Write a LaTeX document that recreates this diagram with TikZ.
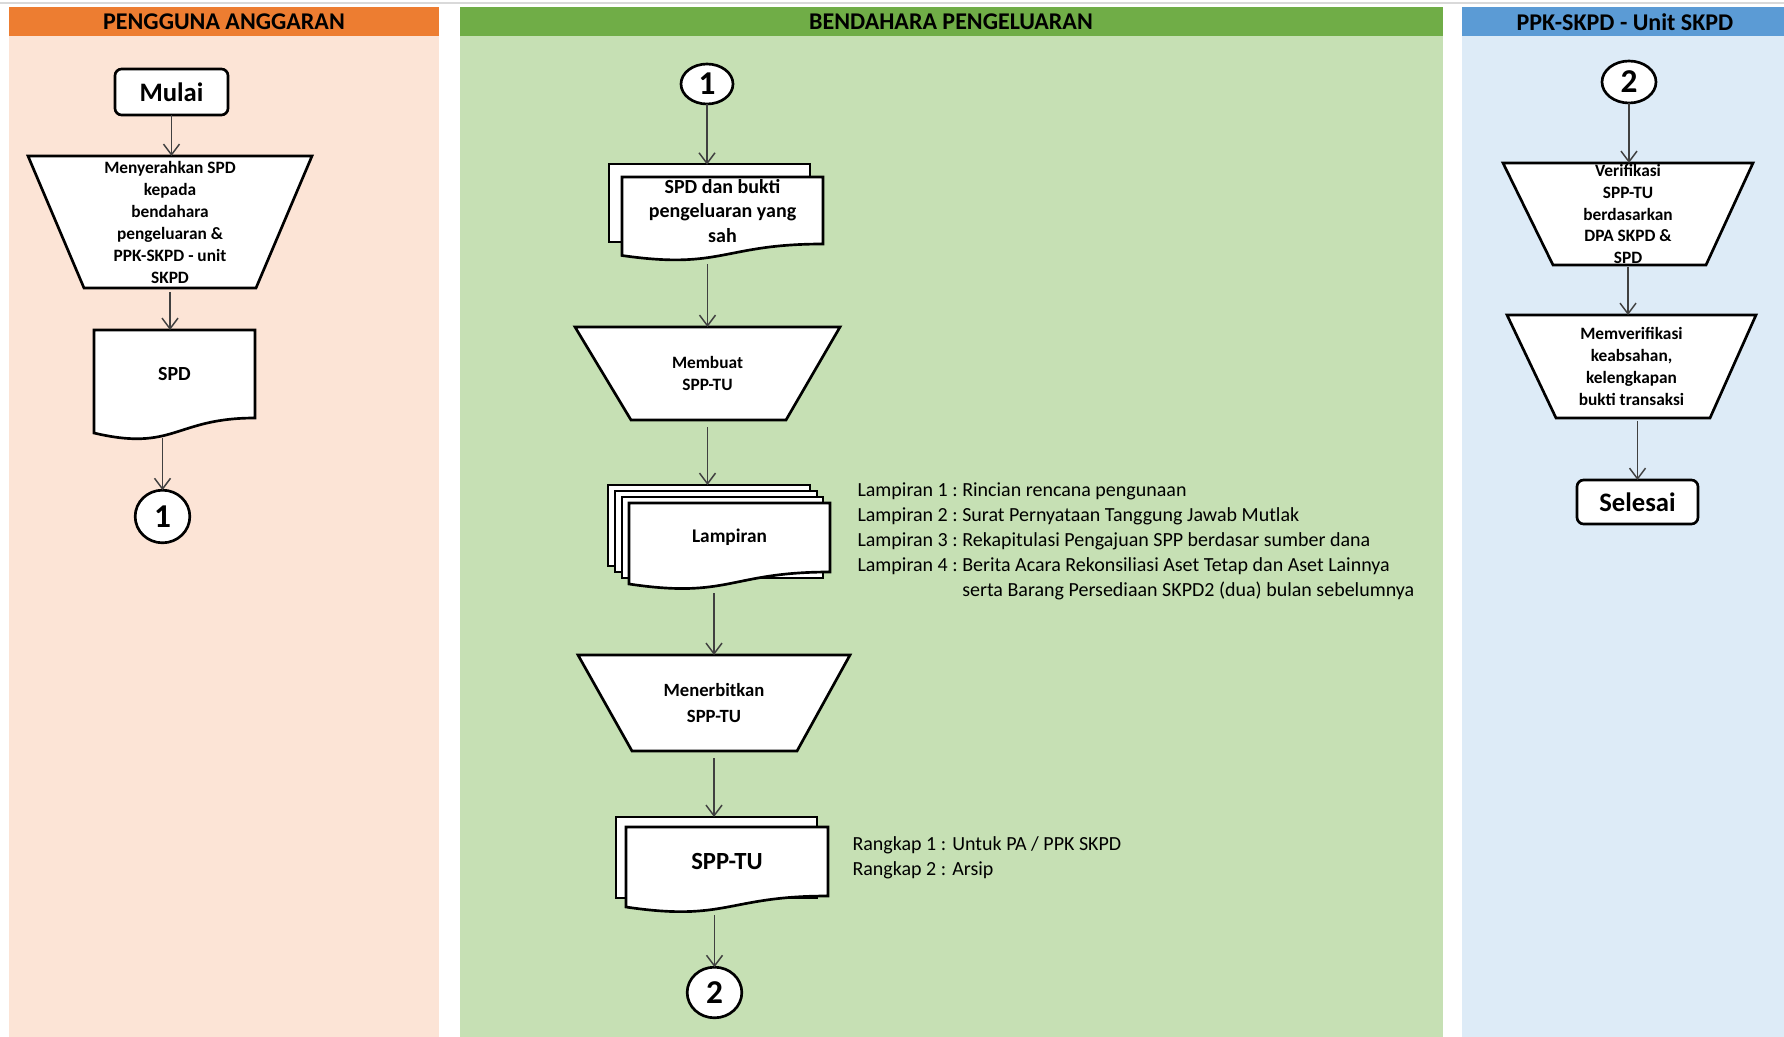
\documentclass[tikz,border=0pt]{standalone}
\usepackage{fontspec}
\setmainfont{Carlito}
\usetikzlibrary{arrows.meta,shapes.geometric,calc}

\definecolor{headorange}{RGB}{237,125,49}
\definecolor{laneorange}{RGB}{252,228,214}
\definecolor{headgreen}{RGB}{112,173,71}
\definecolor{lanegreen}{RGB}{198,224,180}
\definecolor{headblue}{RGB}{91,155,213}
\definecolor{laneblue}{RGB}{221,235,247}
\definecolor{flowgray}{RGB}{64,64,64}

\tikzset{every picture/.style={line width=0.75pt}}
\tikzset{
  shapeline/.style={draw=black, fill=white, line width=2pt},
  terminal/.style={shapeline, rounded corners=5pt, inner sep=0pt, outer sep=0pt, font=\bfseries\fontsize{20}{24}\selectfont},
  offpage/.style={shapeline, ellipse, inner sep=0pt, outer sep=0pt, font=\bfseries\fontsize{25}{30}\selectfont},
  boxtext/.style={inner sep=0pt, outer sep=0pt, align=center, font=\bfseries\fontsize{13}{16.5}\selectfont},
  lanehead/.style={inner sep=0pt, font=\bfseries\fontsize{18}{22}\selectfont},
  notetext/.style={anchor=north west, inner sep=0pt, align=left, font=\fontsize{15}{18.75}\selectfont},
  flow/.style={draw=flowgray, line width=1.1pt, -{Straight Barb[length=8pt,width=12pt]}},
}

\begin{document}
\begin{tikzpicture}[x=0.75pt,y=0.75pt,yscale=-1,xscale=1]
\useasboundingbox (0,0) rectangle (1784,1037);

%Lanes
\draw [black!15, line width=1.5pt] (0,3) -- (1784,3) ;
\fill [headorange] (9,7) rectangle (439,36) ;
\fill [laneorange] (9,36) rectangle (439,1037) ;
\fill [headgreen] (460,7) rectangle (1443,36) ;
\fill [lanegreen] (460,36) rectangle (1443,1037) ;
\fill [headblue] (1462,7) rectangle (1784,36) ;
\fill [laneblue] (1462,36) rectangle (1784,1037) ;

% Text Node
\draw (224,22) node [lanehead] (pa) {PENGGUNA ANGGARAN};
% Text Node
\draw (951,22) node [lanehead] (bp) {BENDAHARA PENGELUARAN};
% Text Node
\draw (1625,22) node [lanehead] (ppk) {PPK-SKPD - Unit SKPD};

%Rounded Rect
\draw (171.5,92) node [terminal, minimum width=84.75pt, minimum height=34.5pt] (mulai) {Mulai};

%Shape: Trapezoid
\draw [shapeline] (28,156) -- (312,156) -- (256,288) -- (84,288) -- cycle ;
\draw (170,222) node [boxtext, minimum width=213pt, minimum height=99pt] (serah) {Menyerahkan SPD\\kepada\\bendahara\\pengeluaran \&\\PPK-SKPD - unit\\SKPD};

%Shape: Document
\draw [shapeline] (94,330) -- (255,330) -- (255,418) .. controls (174.5,418) and (174.5,452) .. (94,433) -- cycle ;
\draw (174.5,374) node [boxtext, font=\bfseries\fontsize{15}{18}\selectfont, minimum width=120.75pt, minimum height=66pt] (spd) {SPD};

%Shape: Circle
\draw (162.5,516.5) node [offpage, minimum width=41pt, minimum height=39.5pt] (pa1) {1};

%Straight Lines
\draw [flow] (mulai.south) -- (mulai.south |- serah.north) ;
\draw [flow] ($(serah.south)+(0,4)$) -- (serah.south |- spd.north) ;
\draw [flow] ($(spd.south -| pa1)+(0,20)$) -- (pa1) ;

%Shape: Circle
\draw (707,84) node [offpage, minimum width=39pt, minimum height=30pt] (bp1) {1};

%Shape: Multidocument
\draw [shapeline] (609,164) rectangle (810,242) ;
\draw [shapeline] (622,177) -- (823,177) -- (823,244) .. controls (722.5,244) and (722.5,270) .. (622,255.5) -- cycle ;
\draw (722.5,211) node [boxtext, font=\bfseries\fontsize{15}{18.4}\selectfont, minimum width=150.75pt, minimum height=50pt] (bukti) {SPD dan bukti\\pengeluaran yang\\sah};

%Shape: Trapezoid
\draw [shapeline] (575,327) -- (840,327) -- (786,420) -- (631,420) -- cycle ;
\draw (707.5,373.5) node [boxtext, minimum width=198.75pt, minimum height=69.75pt] (buat) {Membuat\\SPP-TU};

%Shape: Multidocument
\draw [shapeline] (608,485) rectangle (810,566) ;
\draw [shapeline] (615,491) rectangle (817,572) ;
\draw [shapeline] (622,497) rectangle (823,578) ;
\draw [shapeline] (629,503) -- (830,503) -- (830,572) .. controls (729.5,572) and (729.5,599) .. (629,584) -- cycle ;
\draw (729.5,537.5) node [boxtext, font=\bfseries\fontsize{14.5}{17}\selectfont, minimum width=150.75pt, minimum height=51.75pt] (lampiran) {Lampiran};

%Shape: Trapezoid
\draw [shapeline] (578,655) -- (850,655) -- (797,751) -- (632,751) -- cycle ;
\draw (714,703) node [boxtext, font=\bfseries\fontsize{14}{19.5}\selectfont, minimum width=204pt, minimum height=72pt] (terbit) {Menerbitkan\\SPP-TU};

%Shape: Multidocument
\draw [shapeline] (616,817) rectangle (817,898) ;
\draw [shapeline] (626,827) -- (828,827) -- (828,896) .. controls (727,896) and (727,922) .. (626,907) -- cycle ;
\draw (727,861.5) node [boxtext, font=\bfseries\fontsize{18.5}{22}\selectfont, minimum width=151.5pt, minimum height=51.75pt] (spptu) {SPP-TU};

%Shape: Circle
\draw (714.5,992.5) node [offpage, minimum width=41pt, minimum height=38pt] (bp2) {2};

%Straight Lines
\draw [flow] (bp1) -- ($(bp1 |- bukti.north)+(0,-13)$) ;
\draw [flow] ($(bukti.south -| buat)+(0,20)$) -- (buat) ;
\draw [flow] ($(buat.south)+(0,7)$) -- ($(buat.south |- lampiran.north)+(0,-18)$) ;
\draw [flow] ($(lampiran.south -| terbit)+(0,21)$) -- (terbit) ;
\draw [flow] ($(terbit.south)+(0,7)$) -- ($(terbit.south |- spptu.north)+(0,-10)$) ;
\draw [flow] ($(spptu.south -| bp2)+(0,19)$) -- (bp2) ;

% Text Node
\draw (857,478) node [notetext] (lampnote) {\begin{tabular}{@{}l@{\ }l@{}}
Lampiran 1 : & Rincian rencana pengunaan\\
Lampiran 2 : & Surat Pernyataan Tanggung Jawab Mutlak\\
Lampiran 3 : & Rekapitulasi Pengajuan SPP berdasar sumber dana\\
Lampiran 4 : & Berita Acara Rekonsiliasi Aset Tetap dan Aset Lainnya\\
 & serta Barang Persediaan SKPD2 (dua) bulan sebelumnya
\end{tabular}};
% Text Node
\draw (852,836) node [notetext] (rangkap) {Rangkap 1 : Untuk PA / PPK SKPD\\Rangkap 2 : Arsip};

%Shape: Circle
\draw (1629,82) node [offpage, minimum width=40.5pt, minimum height=31.5pt] (ppk2) {2};

%Shape: Trapezoid
\draw [shapeline] (1503,163) -- (1753,163) -- (1706,265) -- (1553,265) -- cycle ;
\draw (1628,214) node [boxtext, font=\bfseries\fontsize{13}{16.3}\selectfont, minimum width=187.5pt, minimum height=76.5pt] (verif) {Verifikasi\\SPP-TU\\berdasarkan\\DPA SKPD \&\\SPD};

%Shape: Trapezoid
\draw [shapeline] (1507,315) -- (1756,315) -- (1710,418) -- (1556,418) -- cycle ;
\draw (1631.5,366.5) node [boxtext, font=\bfseries\fontsize{13}{16.3}\selectfont, minimum width=186.75pt, minimum height=77.25pt] (cek) {Memverifikasi\\keabsahan,\\kelengkapan\\bukti transaksi};

%Rounded Rect
\draw (1637.5,502) node [terminal, minimum width=90.75pt, minimum height=33pt] (selesai) {Selesai};

%Straight Lines
\draw [flow] (ppk2) -- (ppk2 |- verif.north) ;
\draw [flow] ($(verif.south)+(0,2)$) -- (verif.south |- cek.north) ;
\draw [flow] ($(cek.south -| selesai)+(0,3)$) -- (selesai) ;

\end{tikzpicture}
\end{document}
